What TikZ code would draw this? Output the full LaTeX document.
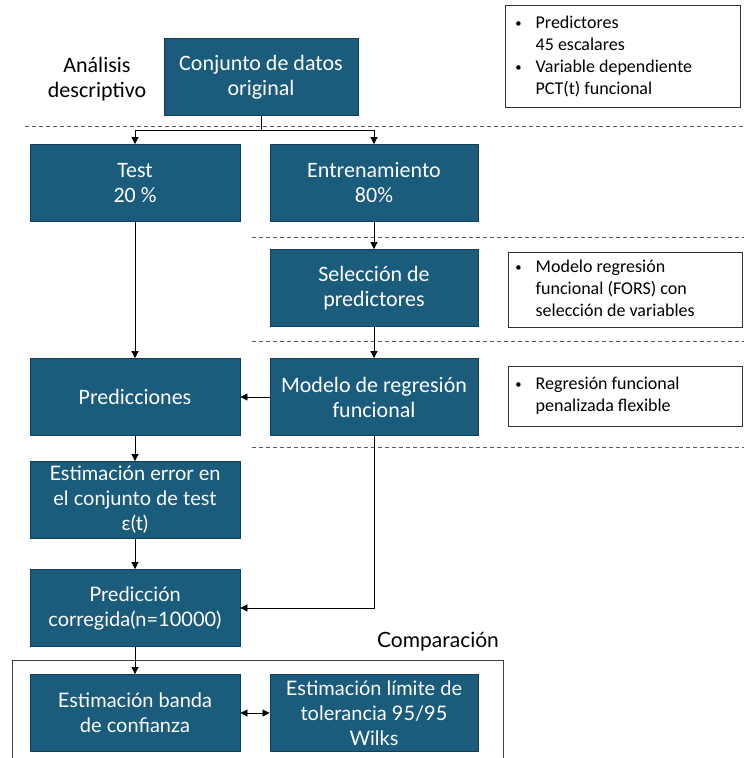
\documentclass[tikz,border=0pt]{standalone}
\usepackage{fontspec}
\setmainfont{Carlito}
\newfontfamily\wide{Lato}
\usetikzlibrary{arrows.meta}
\definecolor{boxc}{HTML}{1B5B7B}
\definecolor{boxd}{HTML}{123F56}
\newcommand{\bul}{\raisebox{1pt}{\scalebox{0.7}{•}}}
\tikzset{
  blk/.style={rectangle, fill=boxc, draw=boxd, line width=0.8pt, text=white, align=center,
    minimum width=#1, minimum height=77pt, inner sep=0pt, font=\fontsize{22}{25}\selectfont},
  blk/.default=210pt,
  wblk/.style={blk=#1, font=\wide\fontsize{20}{25}\selectfont},
  wblk/.default=210pt,
  note/.style={rectangle, draw=black!80, line width=0.8pt, fill=white, anchor=north west, inner sep=0pt,
    font=\fontsize{18}{22}\selectfont, align=left},
  conn/.style={draw=black, line width=0.7pt, -{Triangle[length=7pt,width=7pt]}},
  sepline/.style={draw=black!65, line width=0.8pt, dash pattern=on 4pt off 3pt},
}
\begin{document}
\begin{tikzpicture}[x=1pt,y=-1pt]
\useasboundingbox (0,0) rectangle (744,758);
% dashed separators
\draw[sepline] (25,126) -- (744,126);
\draw[sepline] (252,237) -- (744,237);
\draw[sepline] (252,341) -- (744,341);
\draw[sepline] (252,447) -- (744,447);
% label
\node[font=\fontsize{22}{25}\selectfont, align=center] (ana) at (97,79) {Análisis\\descriptivo};
% blocks
\node[blk=194pt] (conj) at (261,77) {Conjunto de datos\\original};
\node[blk] (test) at (135,183) {Test\\20 \%};
\node[blk=208pt] (ent) at (374,183) {Entrenamiento\\80\%};
\node[blk=208pt] (sel) at (374,288) {Selección de\\predictores};
\node[blk] (pred) at (135,397) {Predicciones};
\node[blk=208pt] (mod) at (374,397) {Modelo de regresión\\funcional};
\node[wblk] (err) at (135,500) {Estimación error en\\el conjunto de test\\ε(t)};
\node[wblk] (cor) at (135,608) {Predicción\\corregida(n=10000)};
\node[wblk] (ban) at (135,713) {Estimación banda\\de confianza};
\node[wblk=208pt] (lim) at (374,713) {Estimación límite de\\tolerancia 95/95\\Wilks};
% notes
\node[note, minimum width=235pt, minimum height=102pt] (n1) at (505,5) {};
\node[note, draw=none, fill=none, anchor=west] (n1t) at (515,57) {\begin{tabular}{@{}l@{\hspace{14pt}}l@{}}\bul&Predictores\\&45 escalares\\\bul&Variable dependiente\\&PCT(t) funcional\end{tabular}};
\node[note, minimum width=234pt, minimum height=75pt] (n2) at (508,252) {};
\node[note, draw=none, fill=none, anchor=west] (n2t) at (515,290) {\begin{tabular}{@{}l@{\hspace{14pt}}l@{}}\bul&Modelo regresión\\&funcional (FORS) con\\&selección de variables\end{tabular}};
\node[note, minimum width=234pt, minimum height=60pt] (n3) at (508,366) {};
\node[note, draw=none, fill=none, anchor=west] (n3t) at (515,396) {\begin{tabular}{@{}l@{\hspace{14pt}}l@{}}\bul&Regresión funcional\\&penalizada flexible\end{tabular}};
\node[draw=none, font=\wide\fontsize{21}{22}\selectfont] (cmp) at (438,642) {Comparación};
% comparison frame
\coordinate (f1) at (12,760);
\coordinate (f2) at (12,660);
\coordinate (f3) at (503,660);
\coordinate (f4) at (503,760);
\draw[black!75, line width=0.8pt] (f1) -- (f2) -- (f3) -- (f4);
% connectors
\coordinate (sp) at (261,130);
\draw[black, line width=0.7pt] (conj.south) -- (sp);
\draw[conn] (sp) -| (test.north);
\draw[conn] (sp) -| (ent.north);
\draw[conn] (ent) -- (sel);
\draw[conn] (sel) -- (mod);
\draw[conn] (test) -- (pred);
\draw[conn] (mod) -- (pred);
\draw[conn] (pred) -- (err);
\draw[conn] (err) -- (cor);
\draw[conn] (mod.south) |- (cor.east);
\draw[conn] (cor) -- (ban);
\draw[draw=black, line width=0.7pt, {Triangle[length=7pt,width=7pt]}-{Triangle[length=7pt,width=7pt]}] (ban) -- (lim);
\end{tikzpicture}
\end{document}
